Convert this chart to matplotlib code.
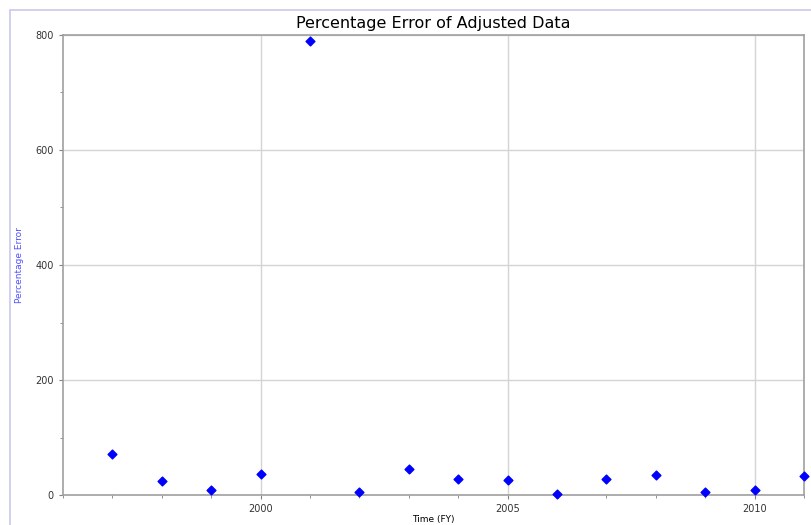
import numpy as np
import matplotlib.pyplot as plt
from matplotlib.patches import Rectangle
from matplotlib.ticker import MultipleLocator

years = [1997, 1998, 1999, 2000, 2001, 2002, 2003, 2004, 2005, 2006, 2007, 2008, 2009, 2010, 2011]
pct_error = [71, 24, 9, 36, 790, 6, 45, 28, 25.5, 2, 27, 35, 5, 9, 33]

fig = plt.figure(figsize=(8.11, 5.25), dpi=100)
ax = fig.add_axes([63 / 811, 30 / 525, (804 - 63) / 811, (495 - 35) / 525])

# lavender outer frame (left and top edges)
fig.add_artist(Rectangle((10 / 811, -0.1), 1.2, 1.1 - 10 / 525, transform=fig.transFigure,
                         fill=False, edgecolor='#c8c8f0', linewidth=1.2))

ax.scatter(years, pct_error, marker='D', s=20, color='#0000ff', zorder=3, clip_on=False)

ax.set_xlim(1996, 2011)
ax.set_ylim(0, 800)
ax.xaxis.set_major_locator(MultipleLocator(5))
ax.xaxis.set_minor_locator(MultipleLocator(1))
ax.yaxis.set_major_locator(MultipleLocator(200))
ax.yaxis.set_minor_locator(MultipleLocator(100))
ax.grid(True, which='major', color='#d4d4d4', linewidth=1)
ax.set_axisbelow(True)

for s in ax.spines.values():
    s.set_color('#a0a0a0')
    s.set_linewidth(1.2)
ax.tick_params(which='both', colors='#808080', labelcolor='#333333', labelsize=7, length=3)
ax.tick_params(which='minor', length=2)

ax.set_title('Percentage Error of Adjusted Data', fontsize=11.5, pad=5)
ax.set_xlabel('Time (FY)', fontsize=6.5, labelpad=1)
ax.set_ylabel('Percentage Error', fontsize=6.5, color='#5050ff', labelpad=8)

fig.savefig('out.png', dpi=100)
